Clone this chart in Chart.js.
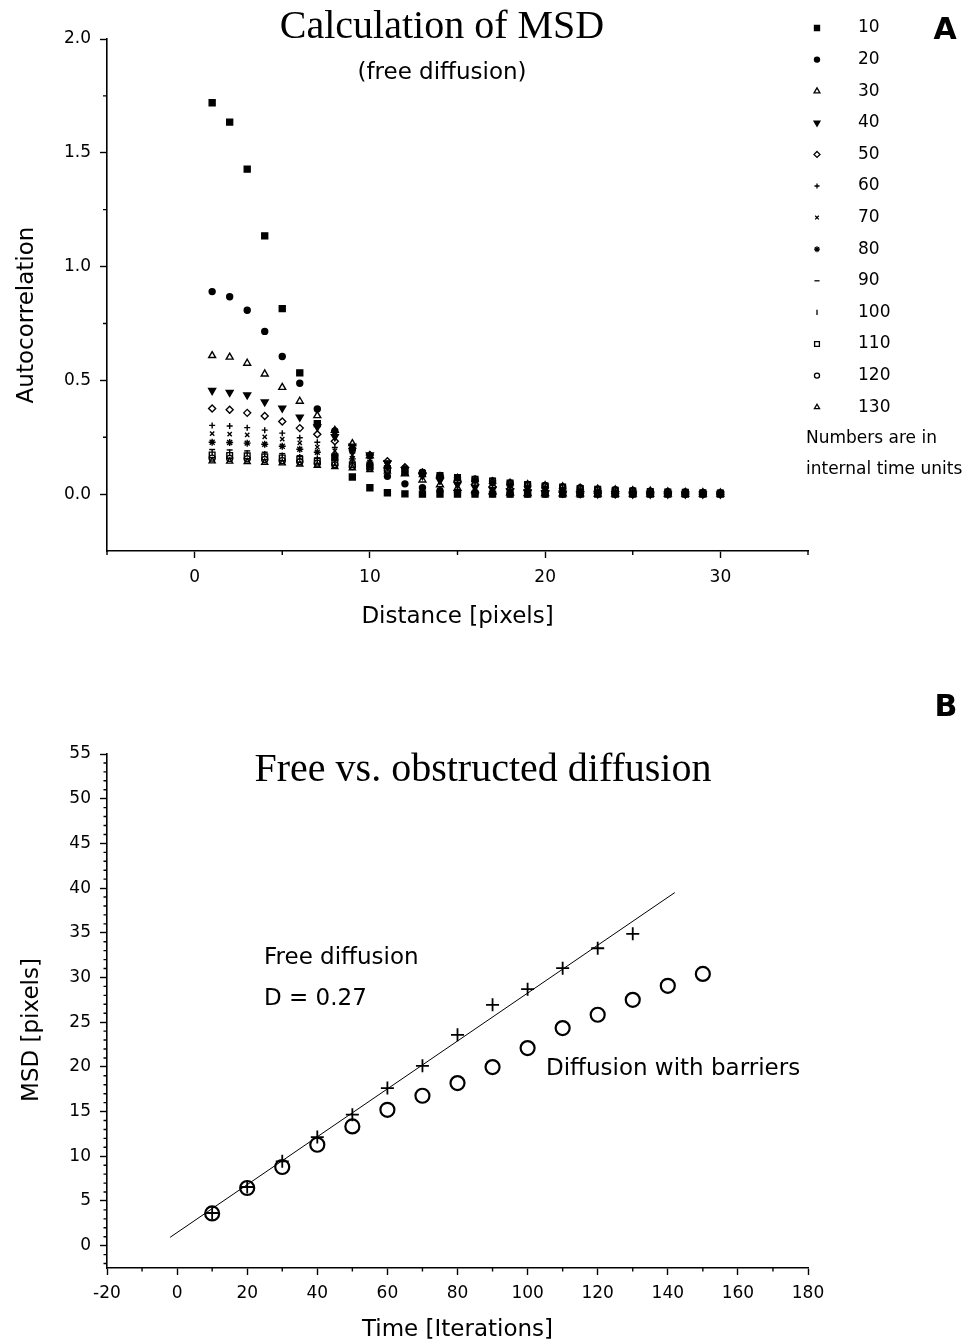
<!DOCTYPE html>
<html><head><meta charset="utf-8">
<script src="https://cdn.jsdelivr.net/npm/chart.js@4.4.1/dist/chart.umd.min.js"></script>
<style>
html,body{margin:0;padding:0;background:#fff;}
#wrapA{position:absolute;left:0;top:0;width:978px;height:660px;}
#wrapB{position:absolute;left:0;top:660px;width:978px;height:684px;}
canvas{display:block;}
</style></head><body>
<div id="wrapA"><canvas id="cA" width="978" height="660"></canvas></div>
<div id="wrapB"><canvas id="cB" width="978" height="684"></canvas></div>
<script>
// ---------- DATA: panel A (autocorrelation vs distance) ----------
const distances = [1,2,3,4,5,6,7,8,9,10,11,12,13,14,15,16,17,18,19,20,21,22,23,24,25,26,27,28,29,30];
const timeLabels = ['10','20','30','40','50','60','70','80','90','100','110','120','130'];
const acf_t10  = [1.72,1.635,1.428,1.135,0.815,0.533,0.31,0.163,0.075,0.028,0.006,0.001,0,0,0,0,0,0,0,0,0,0,0,0,0,0,0,0,0,0];
const acf_t20  = [0.89,0.867,0.808,0.715,0.605,0.487,0.374,0.278,0.195,0.128,0.078,0.045,0.028,0.015,0.008,0.004,0.002,0.001,0,0,0,0,0,0,0,0,0,0,0,0];
const acf_t30  = [0.609,0.602,0.575,0.528,0.469,0.408,0.345,0.28,0.222,0.168,0.124,0.089,0.062,0.041,0.026,0.016,0.01,0.006,0.003,0.002,0.001,0.001,0,0,0,0,0,0,0,0];
const acf_t40  = [0.455,0.447,0.436,0.405,0.378,0.338,0.295,0.252,0.21,0.172,0.137,0.107,0.081,0.06,0.043,0.03,0.021,0.014,0.009,0.006,0.004,0.002,0.001,0.001,0,0,0,0,0,0];
const acf_t50  = [0.376,0.371,0.357,0.343,0.319,0.29,0.263,0.232,0.201,0.172,0.144,0.118,0.095,0.075,0.057,0.043,0.032,0.023,0.016,0.012,0.008,0.005,0.004,0.002,0.0015,0.001,0.001,0,0,0];
const acf_t60  = [0.302,0.299,0.292,0.281,0.268,0.248,0.228,0.205,0.182,0.158,0.136,0.116,0.096,0.079,0.063,0.051,0.039,0.03,0.023,0.017,0.012,0.009,0.006,0.004,0.003,0.002,0.0015,0.001,0.001,0.0005];
const acf_t70  = [0.266,0.264,0.26,0.252,0.242,0.225,0.207,0.19,0.171,0.152,0.134,0.116,0.1,0.084,0.069,0.058,0.046,0.037,0.028,0.022,0.017,0.013,0.009,0.007,0.005,0.004,0.003,0.002,0.0015,0.001];
const acf_t80  = [0.228,0.227,0.224,0.219,0.21,0.197,0.184,0.17,0.155,0.14,0.125,0.11,0.097,0.083,0.071,0.059,0.05,0.041,0.033,0.026,0.021,0.016,0.013,0.01,0.0075,0.0056,0.004,0.003,0.002,0.0016];
const acf_t90  = [0.196,0.194,0.19,0.184,0.178,0.169,0.159,0.149,0.137,0.126,0.114,0.102,0.09,0.08,0.07,0.059,0.05,0.043,0.035,0.029,0.024,0.018,0.015,0.012,0.009,0.007,0.0055,0.004,0.003,0.0025];
const acf_t100 = [0.185,0.183,0.18,0.176,0.17,0.163,0.154,0.145,0.135,0.125,0.114,0.103,0.093,0.083,0.072,0.063,0.055,0.046,0.039,0.033,0.028,0.022,0.018,0.015,0.012,0.0095,0.0075,0.006,0.0045,0.0035];
const acf_t110 = [0.172,0.17,0.168,0.164,0.159,0.153,0.145,0.138,0.129,0.12,0.11,0.101,0.092,0.082,0.073,0.065,0.058,0.049,0.042,0.036,0.031,0.025,0.021,0.017,0.014,0.0116,0.0095,0.0077,0.006,0.005];
const acf_t120 = [0.158,0.157,0.155,0.152,0.147,0.142,0.136,0.129,0.121,0.114,0.105,0.097,0.089,0.08,0.072,0.065,0.058,0.049,0.043,0.038,0.032,0.028,0.022,0.019,0.016,0.013,0.011,0.009,0.0073,0.006];
const acf_t130 = [0.145,0.144,0.142,0.139,0.136,0.131,0.126,0.12,0.114,0.107,0.1,0.093,0.085,0.078,0.071,0.064,0.056,0.05,0.044,0.039,0.034,0.028,0.024,0.021,0.017,0.015,0.012,0.01,0.0085,0.007];
const xTicksA = [0,10,20,30];
const xMinorA = [-5,5,15,25,35];
const yTicksA = [0,0.5,1.0,1.5,2.0];
const yMinorA = [0.25,0.75,1.25,1.75];

// ---------- DATA: panel B (MSD vs time) ----------
const timeFree = [10,20,30,40,50,60,70,80,90,100,110,120,130];
const msdFree = [3.65,6.56,9.43,12.15,14.65,17.63,20.12,23.59,26.94,28.69,31.04,33.27,34.88];
const timeBarrier = [10,20,30,40,50,60,70,80,90,100,110,120,130,140,150];
const msdBarrier = [3.6,6.45,8.8,11.29,13.34,15.2,16.77,18.19,19.98,22.1,24.34,25.83,27.5,29.07,30.4];
const fitTime = [-2,142];
const fitMsd = [0.93,39.5];
const xTicksB = [-20,0,20,40,60,80,100,120,140,160,180];
const xMinorB = [-10,10,30,50,70,90,110,130,150,170];
const yTicksB = [0,5,10,15,20,25,30,35,40,45,50,55];
const yMinorB = [-2,-1,1,2,3,4,6,7,8,9,11,12,13,14,16,17,18,19,21,22,23,24,26,27,28,29,31,32,33,34,36,37,38,39,41,42,43,44,46,47,48,49,51,52,53,54];

// ---------- styling ----------
const SANS = '"DejaVu Sans", sans-serif';
const SERIF = '"Liberation Serif", "Times New Roman", serif';
const seriesA = [acf_t10,acf_t20,acf_t30,acf_t40,acf_t50,acf_t60,acf_t70,acf_t80,acf_t90,acf_t100,acf_t110,acf_t120,acf_t130];
const markerA = [
  {style:'rect', r:4.2, fill:true},
  {style:'circle', r:3, fill:true},
  {style:'triangle', r:4, fill:false},
  {style:'triangle', r:4, fill:true, rot:180},
  {style:'rectRot', r:3.5, fill:false},
  {style:'cross', r:3, fill:false},
  {style:'crossRot', r:3, fill:false},
  {style:'star', r:3.5, fill:false},
  {style:'line', r:3, fill:false},
  {style:'line', r:3, fill:false, rot:90},
  {style:'rect', r:4, fill:false},
  {style:'circle', r:3, fill:false},
  {style:'triangle', r:3.5, fill:false}
];

function minorTicksPlugin(xMinor, yMinor, len) {
  return {
    id: 'minorTicks',
    afterDraw(chart) {
      const ctx = chart.ctx, xs = chart.scales.x, ys = chart.scales.y;
      const area = chart.chartArea;
      ctx.save();
      ctx.strokeStyle = '#000'; ctx.lineWidth = 1.4;
      ctx.beginPath();
      xMinor.forEach(v => { const px = xs.getPixelForValue(v); ctx.moveTo(px, area.bottom); ctx.lineTo(px, area.bottom + len); });
      yMinor.forEach(v => { const py = ys.getPixelForValue(v); ctx.moveTo(area.left, py); ctx.lineTo(area.left - len, py); });
      ctx.stroke();
      ctx.restore();
    }
  };
}

function drawText(ctx, text, x, y, font, align, rot) {
  ctx.save();
  ctx.fillStyle = '#000';
  ctx.font = font;
  ctx.textAlign = align || 'center';
  ctx.textBaseline = 'middle';
  ctx.translate(x, y);
  if (rot) ctx.rotate(rot);
  ctx.fillText(text, 0, 0);
  ctx.restore();
}

const textPluginA = {
  id: 'textA',
  afterDraw(chart) {
    const ctx = chart.ctx;
    drawText(ctx, 'Calculation of MSD', 442, 27, '40px ' + SERIF);
    drawText(ctx, '(free diffusion)', 442, 73, '23px ' + SANS);
    drawText(ctx, 'A', 945, 31, 'bold 30px ' + SANS);
    drawText(ctx, 'Autocorrelation', 27, 315, '23px ' + SANS, 'center', -Math.PI / 2);
    // legend
    for (let i = 0; i < timeLabels.length; i++) {
      const y = 28 + i * 31.6;
      const m = markerA[i];
      ctx.save();
      ctx.fillStyle = m.fill ? '#000' : 'rgba(0,0,0,0)';
      ctx.strokeStyle = '#000';
      ctx.lineWidth = 1.3;
      Chart.helpers.drawPoint(ctx, {pointStyle: m.style, rotation: m.rot || 0, radius: m.r * 0.85, borderWidth: 1.3}, 817, y);
      ctx.restore();
      drawText(ctx, timeLabels[i], 858, y, '17px ' + SANS, 'left');
    }
    drawText(ctx, 'Numbers are in', 806, 439, '17px ' + SANS, 'left');
    drawText(ctx, 'internal time units', 806, 470, '17px ' + SANS, 'left');
  }
};

const textPluginB = {
  id: 'textB',
  afterDraw(chart) {
    const ctx = chart.ctx;
    drawText(ctx, 'Free vs. obstructed diffusion', 483, 110, '40px ' + SERIF);
    drawText(ctx, 'B', 946, 48, 'bold 30px ' + SANS);
    drawText(ctx, 'MSD [pixels]', 32, 370, '23px ' + SANS, 'center', -Math.PI / 2);
    drawText(ctx, 'Free diffusion', 264, 298, '23px ' + SANS, 'left');
    drawText(ctx, 'D = 0.27', 264, 339, '23px ' + SANS, 'left');
    drawText(ctx, 'Diffusion with barriers', 546, 409, '23px ' + SANS, 'left');
  }
};

function axisCommon(min, max, ticksArr, fmt, tickFont, pad) {
  return {
    type: 'linear', min: min, max: max,
    afterBuildTicks: s => { s.ticks = ticksArr.map(v => ({value: v})); },
    grid: {display: true, drawOnChartArea: false, drawTicks: true, tickLength: 7, color: '#000', tickColor: '#000', tickWidth: 1.4},
    border: {display: true, color: '#000', width: 1.6},
    ticks: {color: '#000', font: {family: SANS, size: tickFont}, padding: pad, maxRotation: 0, autoSkip: false, callback: fmt}
  };
}

// ---------- Chart A ----------
const xA = axisCommon(-5, 35, xTicksA, v => String(v), 17, 9);
xA.afterFit = s => { s.height = 109; };
xA.title = {display: true, text: 'Distance [pixels]', color: '#000', font: {family: SANS, size: 23}, padding: {top: 0, bottom: 29}};
const yA = axisCommon(-0.25, 2.0, yTicksA, v => Number(v).toFixed(1), 17, 9);
yA.afterFit = s => { s.width = 107; };

new Chart(document.getElementById('cA'), {
  type: 'scatter',
  data: {
    datasets: seriesA.map((vals, i) => ({
      label: timeLabels[i],
      data: distances.map((d, j) => ({x: d, y: vals[j]})),
      pointStyle: markerA[i].style,
      pointRadius: markerA[i].r,
      pointRotation: markerA[i].rot || 0,
      pointBackgroundColor: markerA[i].fill ? '#000' : 'rgba(0,0,0,0)',
      pointBorderColor: '#000',
      pointBorderWidth: 1.4,
      showLine: false
    }))
  },
  options: {
    responsive: false, animation: false,
    layout: {padding: {top: 39, left: 0, right: 170, bottom: 0}},
    plugins: {legend: {display: false}, tooltip: {enabled: false}},
    scales: {x: xA, y: yA}
  },
  plugins: [minorTicksPlugin(xMinorA, yMinorA, 4), textPluginA]
});

// ---------- Chart B ----------
const xB = axisCommon(-20, 180, xTicksB, v => String(v), 17, 8);
xB.afterFit = s => { s.height = 76; };
xB.title = {display: true, text: 'Time [Iterations]', color: '#000', font: {family: SANS, size: 23}, padding: {top: 0, bottom: 0}};
const yB = axisCommon(-2.5, 55, yTicksB, v => String(v), 17, 9);
yB.afterFit = s => { s.width = 107; };

new Chart(document.getElementById('cB'), {
  type: 'scatter',
  data: {
    datasets: [
      {
        label: 'Free diffusion',
        data: timeFree.map((t, i) => ({x: t, y: msdFree[i]})),
        pointStyle: 'cross', pointRadius: 6.5, pointBorderWidth: 1.8,
        pointBorderColor: '#000', pointBackgroundColor: 'rgba(0,0,0,0)', showLine: false
      },
      {
        label: 'Diffusion with barriers',
        data: timeBarrier.map((t, i) => ({x: t, y: msdBarrier[i]})),
        pointStyle: 'circle', pointRadius: 7, pointBorderWidth: 2.2,
        pointBorderColor: '#000', pointBackgroundColor: 'rgba(0,0,0,0)', showLine: false
      },
      {
        label: 'Fit',
        data: fitTime.map((t, i) => ({x: t, y: fitMsd[i]})),
        showLine: true, borderColor: '#000', borderWidth: 1, pointRadius: 0, fill: false
      }
    ]
  },
  options: {
    responsive: false, animation: false,
    layout: {padding: {top: 94, left: 0, right: 170, bottom: 0}},
    plugins: {legend: {display: false}, tooltip: {enabled: false}},
    scales: {x: xB, y: yB}
  },
  plugins: [minorTicksPlugin(xMinorB, yMinorB, 3.5), textPluginB]
});
</script>
</body></html>
